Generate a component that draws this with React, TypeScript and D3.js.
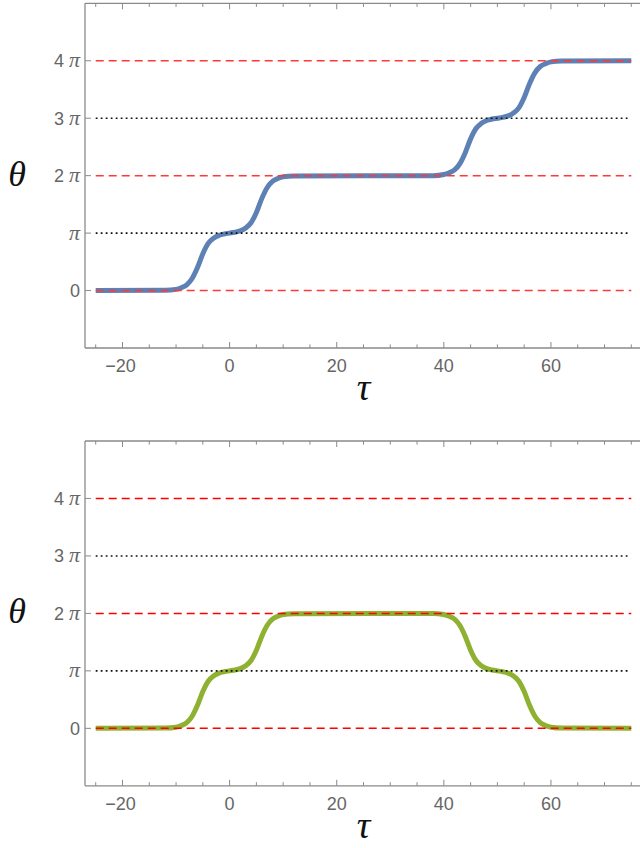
import React from "react";
import * as d3 from "d3";

// ---- data (θ in units of π) ----
const tauTop = [-25, -12, -10, -9, -8, -7, -6, -5, -4, -3, -2, -1, 0, 1, 2, 3, 4, 5, 6, 7, 8, 9, 10, 12, 38, 40, 41, 42, 43, 44, 45, 46, 47, 48, 49, 50, 51, 52, 53, 54, 55, 56, 57, 58, 59, 60, 62, 75];
const thetaTop = [0, 0.005, 0.02, 0.05, 0.1, 0.21, 0.4, 0.64, 0.82, 0.91, 0.96, 0.985, 1.0, 1.015, 1.04, 1.09, 1.18, 1.36, 1.6, 1.79, 1.9, 1.95, 1.98, 1.995, 2.0, 2.02, 2.05, 2.1, 2.21, 2.4, 2.64, 2.82, 2.91, 2.96, 2.985, 3.0, 3.015, 3.04, 3.09, 3.18, 3.36, 3.6, 3.79, 3.9, 3.95, 3.98, 3.995, 4.0];
const tauBottom = [-25, -12, -10, -9, -8, -7, -6, -5, -4, -3, -2, -1, 0, 1, 2, 3, 4, 5, 6, 7, 8, 9, 10, 12, 38, 40, 41, 42, 43, 44, 45, 46, 47, 48, 49, 50, 51, 52, 53, 54, 55, 56, 57, 58, 59, 60, 62, 75];
const thetaBottom = [0, 0.005, 0.02, 0.05, 0.1, 0.21, 0.4, 0.64, 0.82, 0.91, 0.96, 0.985, 1.0, 1.015, 1.04, 1.09, 1.18, 1.36, 1.6, 1.79, 1.9, 1.95, 1.98, 1.995, 2.0, 1.98, 1.95, 1.9, 1.79, 1.6, 1.36, 1.18, 1.09, 1.04, 1.015, 1.0, 0.985, 0.96, 0.91, 0.82, 0.64, 0.4, 0.21, 0.1, 0.05, 0.02, 0.005, 0];

const yTickValues = [0, 1, 2, 3, 4];
const yTickDigits = ["0", "", "2", "3", "4"];
const xMajorTicks = [-20, 0, 20, 40, 60];
const xMinorTicks = [-25, -15, -10, -5, 5, 10, 15, 25, 30, 35, 45, 50, 55, 65, 70, 75];
const dashedLevels = [0, 2, 4];
const dottedLevels = [1, 3];
const xDomain: [number, number] = [-27, 77];
const yDomain: [number, number] = [-1, 5];
const lineStart = -25;
const lineEnd = 75;

const W = 640;
const H = 848;
const AXIS = "#8a8a8a";
const LABEL = "#666666";

type PanelProps = {
  top: number;
  bottom: number;
  tau: number[];
  theta: number[];
  color: string;
  red: string;
};

function Panel({ top, bottom, tau, theta, color, red }: PanelProps) {
  const x = d3.scaleLinear().domain(xDomain).range([85, 642]);
  const y = d3.scaleLinear().domain(yDomain).range([bottom, top]);
  const pts = tau.map((t, i) => [t, theta[i]] as [number, number]);
  const line = d3
    .line<[number, number]>()
    .x((d) => x(d[0]))
    .y((d) => y(d[1]))
    .curve(d3.curveMonotoneX);
  const left = x(xDomain[0]);
  const right = x(xDomain[1]);
  return (
    <g>
      {/* curve */}
      <path d={line(pts) || ""} fill="none" stroke={color} strokeWidth={5} strokeLinejoin="round" />
      {/* reference lines */}
      {dashedLevels.map((v) => (
        <line key={"d" + v} x1={x(lineStart)} x2={x(lineEnd)} y1={y(v)} y2={y(v)} stroke={red} strokeWidth={1.5} strokeDasharray="8,5" />
      ))}
      {dottedLevels.map((v) => (
        <line key={"o" + v} x1={x(lineStart)} x2={x(lineEnd) - 2} y1={y(v)} y2={y(v)} stroke="#111" strokeWidth={1.6} strokeDasharray="1.8,3.2" />
      ))}
      {/* frame */}
      <line x1={left} x2={left} y1={top} y2={bottom} stroke={AXIS} strokeWidth={1.3} />
      <line x1={left} x2={right} y1={bottom} y2={bottom} stroke={AXIS} strokeWidth={1.3} />
      <line x1={left} x2={right} y1={top} y2={top} stroke={AXIS} strokeWidth={1.3} />
      <line x1={right} x2={right} y1={top} y2={bottom} stroke={AXIS} strokeWidth={1.3} />
      {/* x ticks */}
      {xMajorTicks.map((t) => (
        <g key={"M" + t}>
          <line x1={x(t)} x2={x(t)} y1={bottom} y2={bottom - 6} stroke={AXIS} strokeWidth={1} />
          <line x1={x(t)} x2={x(t)} y1={top} y2={top + 6} stroke={AXIS} strokeWidth={1} />
          <text x={x(t) + (t < 0 ? -2 : 0)} y={bottom + 24} textAnchor="middle" fontFamily="Liberation Sans, Arial, sans-serif" fontSize={18} fill={LABEL}>
            {t < 0 ? "\u2212" + Math.abs(t) : String(t)}
          </text>
        </g>
      ))}
      {xMinorTicks.map((t) => (
        <g key={"m" + t}>
          <line x1={x(t)} x2={x(t)} y1={bottom} y2={bottom - 3.6} stroke={AXIS} strokeWidth={1} />
          <line x1={x(t)} x2={x(t)} y1={top} y2={top + 3.6} stroke={AXIS} strokeWidth={1} />
        </g>
      ))}
      {/* y ticks */}
      {yTickValues.map((v, i) => (
        <g key={"y" + v}>
          <line x1={left} x2={left + 6} y1={y(v)} y2={y(v)} stroke={AXIS} strokeWidth={1} />
          <text x={80} y={y(v) + 6.5} textAnchor="end" fill={LABEL} fontSize={18} fontFamily="Liberation Sans, Arial, sans-serif">
            {v === 0 ? "0" : (
              <>
                {yTickDigits[i] ? <tspan>{yTickDigits[i] + " "}</tspan> : null}
                <tspan fontFamily="Liberation Serif, Times New Roman, serif" fontStyle="italic" fontSize={22}>π</tspan>
              </>
            )}
          </text>
        </g>
      ))}
      {/* axis labels */}
      <text x={17} y={y(2) + 10} textAnchor="middle" fontFamily="Liberation Serif, Times New Roman, serif" fontStyle="italic" fontSize={36} fill="#111">θ</text>
      <text x={(left + right) / 2} y={bottom + 52} textAnchor="middle" fontFamily="Liberation Serif, Times New Roman, serif" fontStyle="italic" fontSize={38} fill="#111">τ</text>
    </g>
  );
}

export default function App() {
  return (
    <div style={{ position: "absolute", left: 0, top: 0, width: W, height: H, background: "#fff" }}>
      <svg width={W} height={H} viewBox={`0 0 ${W} ${H}`} style={{ display: "block" }}>
        <rect width={W} height={H} fill="#fff" />
        <Panel top={3.3} bottom={348} tau={tauTop} theta={thetaTop} color="#5e81b5" red="#ff3838" />
        <Panel top={441} bottom={785.8} tau={tauBottom} theta={thetaBottom} color="#8fb131" red="#ff0000" />
      </svg>
    </div>
  );
}
